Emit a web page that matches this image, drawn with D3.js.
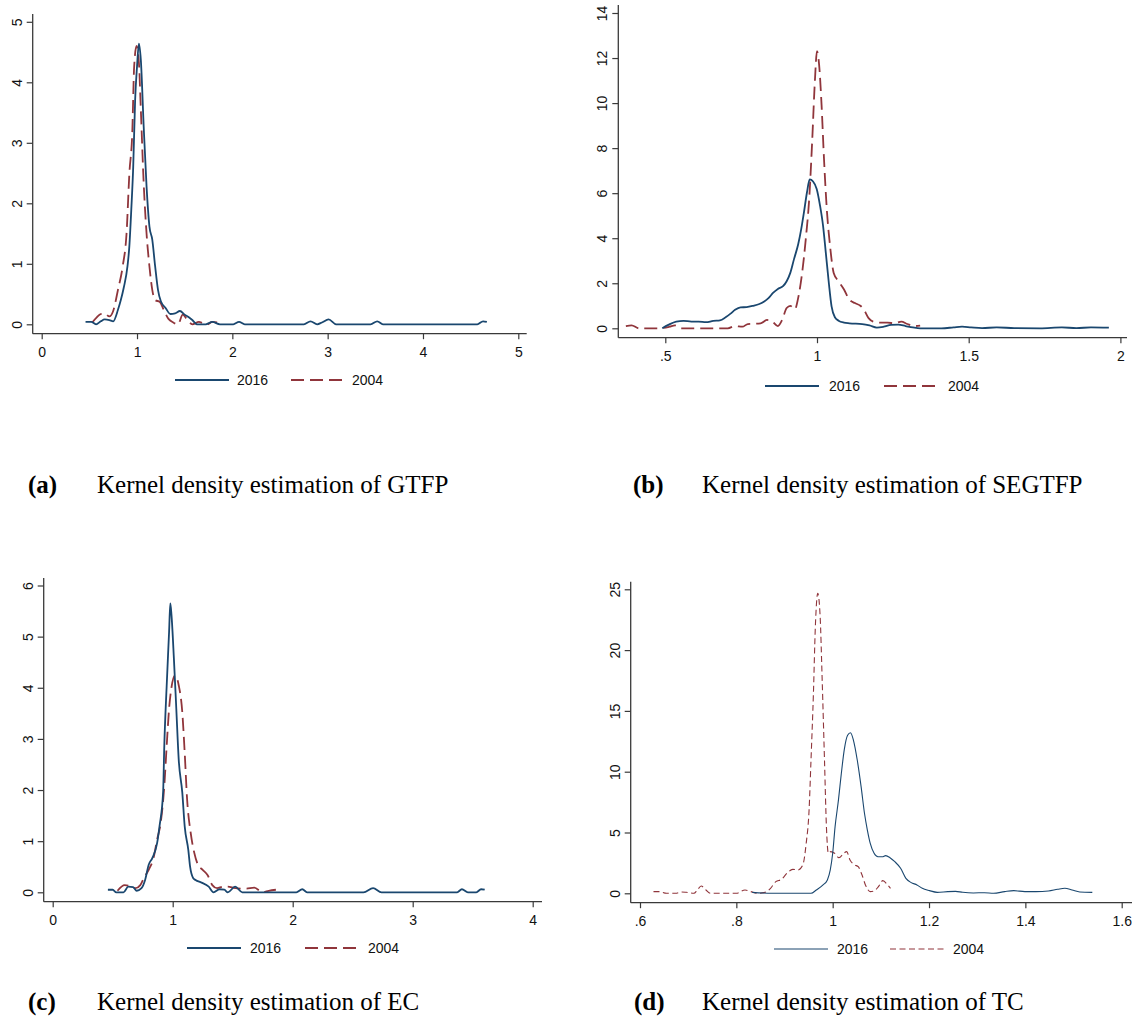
<!DOCTYPE html>
<html><head><meta charset="utf-8">
<script src="https://cdn.jsdelivr.net/npm/d3@7"></script>
<style>
body{margin:0;background:#fff;}
svg{display:block;}
</style></head>
<body>
<svg id="chart" width="1132" height="1017"></svg>
<script>
// ---------------- DATA ----------------
const legendLabels = ["2016", "2004"];

// (a) GTFP
const gtfpXTicks = [0, 1, 2, 3, 4, 5];
const gtfpYTicks = [0, 1, 2, 3, 4, 5];
const gtfp2016 = [[0.46,0.04],[0.52,0.04],[0.57,0.0],[0.62,0.05],[0.66,0.08],[0.71,0.07],[0.75,0.05],[0.80,0.24],[0.83,0.4],[0.86,0.6],[0.90,0.96],[0.92,1.3],[0.94,1.9],[0.96,2.6],[0.98,3.7],[1.0,4.26],[1.02,4.64],[1.04,4.37],[1.07,3.27],[1.10,2.28],[1.13,1.62],[1.16,1.4],[1.19,0.96],[1.22,0.57],[1.25,0.38],[1.30,0.27],[1.35,0.17],[1.40,0.18],[1.45,0.22],[1.50,0.16],[1.54,0.12],[1.58,0.07],[1.63,0.0],[1.72,0.0],[1.79,0.04],[1.87,0.0],[2.01,0.0],[2.07,0.04],[2.13,0.0],[2.75,0.0],[2.82,0.05],[2.89,0.0],[2.94,0.03],[3.01,0.08],[3.09,0.0],[3.45,0.0],[3.52,0.05],[3.58,0.0],[4.57,0.0],[4.63,0.05],[4.67,0.04]];
const gtfp2004 = [[0.53,0.03],[0.58,0.12],[0.62,0.17],[0.66,0.18],[0.71,0.13],[0.75,0.22],[0.80,0.57],[0.85,0.96],[0.89,1.5],[0.92,2.5],[0.95,3.16],[0.97,4.26],[0.995,4.6],[1.02,4.32],[1.04,3.55],[1.07,2.33],[1.10,1.5],[1.13,0.96],[1.16,0.57],[1.19,0.4],[1.24,0.37],[1.28,0.24],[1.33,0.09],[1.38,0.03],[1.43,0.0],[1.48,0.16],[1.52,0.09],[1.58,0.0],[1.65,0.04],[1.69,0.02],[1.74,0.0],[1.79,0.04],[1.84,0.03]];

// (b) SEGTFP
const segXTicks = [0.5, 1, 1.5, 2];
const segYTicks = [0, 2, 4, 6, 8, 10, 12, 14];
const seg2016 = [[0.49,0.0],[0.51,0.15],[0.536,0.3],[0.56,0.33],[0.586,0.3],[0.61,0.3],[0.634,0.27],[0.658,0.33],[0.68,0.35],[0.70,0.5],[0.715,0.65],[0.73,0.82],[0.748,0.93],[0.768,0.94],[0.79,1.0],[0.81,1.08],[0.826,1.19],[0.84,1.34],[0.855,1.57],[0.871,1.75],[0.888,1.87],[0.90,2.09],[0.912,2.46],[0.924,3.06],[0.938,3.73],[0.948,4.4],[0.957,5.15],[0.967,6.04],[0.976,6.61],[0.987,6.52],[0.999,6.19],[1.01,5.45],[1.02,4.55],[1.029,3.36],[1.039,2.01],[1.048,0.97],[1.059,0.49],[1.071,0.34],[1.089,0.25],[1.107,0.22],[1.149,0.19],[1.173,0.13],[1.197,0.03],[1.22,0.07],[1.244,0.15],[1.268,0.16],[1.292,0.1],[1.316,0.04],[1.34,0.0],[1.41,0.0],[1.45,0.04],[1.478,0.07],[1.508,0.04],[1.544,0.01],[1.592,0.04],[1.65,0.01],[1.735,0.0],[1.807,0.04],[1.855,0.01],[1.903,0.04],[1.962,0.03]];
const seg2004 = [[0.37,0.1],[0.389,0.13],[0.413,0.0],[0.478,0.0],[0.514,0.07],[0.532,0.13],[0.55,0.0],[0.706,0.0],[0.73,0.1],[0.754,0.07],[0.772,0.19],[0.814,0.22],[0.835,0.37],[0.85,0.33],[0.871,0.1],[0.885,0.37],[0.90,0.9],[0.912,1.0],[0.927,0.85],[0.939,1.42],[0.951,2.46],[0.963,3.96],[0.975,5.9],[0.984,8.28],[0.993,10.97],[1.0,12.31],[1.007,11.7],[1.015,9.93],[1.023,7.54],[1.033,5.15],[1.043,3.66],[1.055,2.46],[1.071,2.09],[1.089,1.72],[1.107,1.27],[1.125,1.12],[1.143,1.0],[1.155,0.82],[1.17,0.45],[1.185,0.3],[1.209,0.25],[1.233,0.25],[1.256,0.22],[1.278,0.3],[1.298,0.19],[1.322,0.1],[1.34,0.12]];

// (c) EC
const ecXTicks = [0, 1, 2, 3, 4];
const ecYTicks = [0, 1, 2, 3, 4, 5, 6];
const ec2016 = [[0.46,0.05],[0.50,0.05],[0.53,0.0],[0.59,0.0],[0.63,0.11],[0.67,0.1],[0.70,0.03],[0.74,0.08],[0.77,0.24],[0.80,0.54],[0.83,0.67],[0.87,0.96],[0.89,1.29],[0.92,1.95],[0.93,2.87],[0.95,4.05],[0.97,5.1],[0.98,5.65],[0.99,5.42],[1.01,4.57],[1.03,3.59],[1.05,2.6],[1.08,1.95],[1.10,1.29],[1.13,0.83],[1.145,0.5],[1.17,0.28],[1.19,0.24],[1.24,0.19],[1.30,0.11],[1.34,0.0],[1.39,0.06],[1.43,0.05],[1.46,0.0],[1.52,0.11],[1.58,0.0],[2.03,0.0],[2.08,0.06],[2.12,0.0],[2.59,0.0],[2.67,0.08],[2.74,0.0],[3.37,0.0],[3.41,0.06],[3.46,0.0],[3.53,0.0],[3.57,0.06],[3.60,0.05]];
const ec2004 = [[0.54,0.03],[0.60,0.14],[0.65,0.12],[0.69,0.08],[0.73,0.14],[0.76,0.28],[0.80,0.44],[0.84,0.67],[0.87,1.03],[0.90,1.36],[0.93,2.08],[0.95,2.87],[0.97,3.59],[0.99,4.01],[1.02,4.24],[1.05,4.05],[1.08,3.52],[1.10,2.73],[1.12,1.82],[1.15,1.16],[1.18,0.77],[1.21,0.54],[1.25,0.44],[1.29,0.34],[1.33,0.14],[1.37,0.08],[1.42,0.11],[1.46,0.11],[1.52,0.08],[1.61,0.07],[1.68,0.09],[1.75,0.0],[1.80,0.03],[1.86,0.05]];

// (d) TC
const tcXTicks = [0.6, 0.8, 1, 1.2, 1.4, 1.6];
const tcYTicks = [0, 5, 10, 15, 20, 25];
const tc2016 = [[0.833,0.08],[0.875,0.0],[0.955,0.0],[0.966,0.27],[0.98,0.69],[0.989,1.1],[0.995,1.92],[1.0,3.29],[1.005,5.48],[1.012,7.68],[1.018,9.87],[1.024,11.8],[1.031,13.0],[1.037,13.2],[1.043,12.6],[1.051,10.96],[1.059,8.77],[1.066,6.58],[1.072,5.2],[1.078,4.1],[1.086,3.29],[1.094,3.0],[1.103,3.0],[1.11,3.1],[1.119,2.93],[1.129,2.6],[1.141,2.06],[1.152,1.23],[1.163,0.88],[1.175,0.69],[1.186,0.41],[1.201,0.22],[1.217,0.08],[1.239,0.14],[1.255,0.16],[1.27,0.08],[1.292,0.03],[1.315,0.05],[1.334,0.0],[1.357,0.14],[1.376,0.22],[1.399,0.14],[1.422,0.14],[1.448,0.19],[1.467,0.33],[1.482,0.41],[1.497,0.27],[1.513,0.11],[1.539,0.08]];
const tc2004 = [[0.628,0.14],[0.64,0.14],[0.655,0.0],[0.674,0.0],[0.685,0.11],[0.696,0.08],[0.712,0.0],[0.719,0.27],[0.727,0.6],[0.737,0.27],[0.746,0.0],[0.80,0.0],[0.818,0.27],[0.83,0.14],[0.844,0.0],[0.86,0.08],[0.871,0.41],[0.882,0.96],[0.894,1.15],[0.905,1.64],[0.917,1.97],[0.928,1.92],[0.938,2.33],[0.945,4.11],[0.951,6.85],[0.955,10.96],[0.96,16.4],[0.964,21.9],[0.969,24.67],[0.974,22.75],[0.978,17.8],[0.983,10.96],[0.987,5.48],[0.991,3.29],[0.996,3.43],[1.004,3.29],[1.013,2.93],[1.023,3.29],[1.029,3.43],[1.036,2.74],[1.046,2.33],[1.053,2.19],[1.061,1.5],[1.068,0.69],[1.078,0.14],[1.086,0.19],[1.095,0.55],[1.104,1.04],[1.114,0.69],[1.12,0.41]];

const captionTags = ["(a)", "(b)", "(c)", "(d)"];
const captionTexts = ["Kernel density estimation of GTFP", "Kernel density estimation of SEGTFP", "Kernel density estimation of EC", "Kernel density estimation of TC"];

// ---------------- LAYOUT ----------------
const NAVY = "#1a476f", MAROON = "#90353b";
const fmt = v => { let s = String(+v.toFixed(2)); return s.replace(/^0\./, ".").replace(/^-0\./, "-."); };

const panels = [
  { s16: gtfp2016, s04: gtfp2004, xt: gtfpXTicks, yt: gtfpYTicks,
    xd: [0,5], xr: [41.7,518.3], yd: [0,5], yr: [324.3,21.8],
    axL: 32.7, axB: 333.7, axT: 14, axR: 526.7,
    leg: { y: 380, x1: 175, t1: 237, x2: 291, t2: 352 },
    lw: 1.8, dash: "13,6",
    cap: { tx: 28, x: 97, y: 493 } },
  { s16: seg2016, s04: seg2004, xt: segXTicks, yt: segYTicks,
    xd: [0.5,2], xr: [665.3,1120.4], yd: [0,14], yr: [328.3,13.0],
    axL: 618.3, axB: 337.7, axT: 5, axR: 1127,
    leg: { y: 386, x1: 765, t1: 829, x2: 884, t2: 948 },
    lw: 1.8, dash: "13,6",
    cap: { tx: 633, x: 702, y: 493 } },
  { s16: ec2016, s04: ec2004, xt: ecXTicks, yt: ecYTicks,
    xd: [0,4], xr: [52.7,532.7], yd: [0,6], yr: [892.3,585.5],
    axL: 43.7, axB: 901.7, axT: 578, axR: 542,
    leg: { y: 948, x1: 187, t1: 250, x2: 305, t2: 368 },
    lw: 1.8, dash: "13,6",
    cap: { tx: 28, x: 97, y: 1010 } },
  { s16: tc2016, s04: tc2004, xt: tcXTicks, yt: tcYTicks,
    xd: [0.6,1.6], xr: [640,1121.7], yd: [0,25], yr: [893.3,589.3],
    axL: 630.7, axB: 902.7, axT: 581.7, axR: 1132,
    leg: { y: 949, x1: 774, t1: 837, x2: 890, t2: 953 },
    lw: 1.1, dash: "6,3.5",
    cap: { tx: 634, x: 702, y: 1010 } }
];

const svg = d3.select("#chart");
const SANS = "'Liberation Sans', Arial, Helvetica, sans-serif";
const SERIF = "'Liberation Serif', 'Times New Roman', serif";

panels.forEach((p, i) => {
  const g = svg.append("g");
  const x = d3.scaleLinear().domain(p.xd).range(p.xr);
  const y = d3.scaleLinear().domain(p.yd).range(p.yr);

  // axis lines
  g.append("line").attr("x1", p.axL).attr("x2", p.axL).attr("y1", p.axT).attr("y2", p.axB)
    .attr("stroke", "#3a3a3a").attr("stroke-width", 1.3);
  g.append("line").attr("x1", p.axL).attr("x2", p.axR).attr("y1", p.axB).attr("y2", p.axB)
    .attr("stroke", "#3a3a3a").attr("stroke-width", 1.3);

  // x axis ticks
  const xa = g.append("g").attr("transform", `translate(0,${p.axB})`)
    .call(d3.axisBottom(x).tickValues(p.xt).tickFormat(fmt).tickSize(5.5).tickPadding(7.5));
  xa.select(".domain").remove();
  xa.selectAll("line").attr("stroke", "#3a3a3a").attr("stroke-width", 1.2);
  xa.selectAll("text").attr("font-family", SANS).attr("font-size", 14).attr("fill", "#111");

  // y axis ticks with rotated labels
  const ya = g.append("g").attr("transform", `translate(${p.axL},0)`)
    .call(d3.axisLeft(y).tickValues(p.yt).tickFormat(fmt).tickSize(6));
  ya.select(".domain").remove();
  ya.selectAll("line").attr("stroke", "#3a3a3a").attr("stroke-width", 1.2);
  ya.selectAll("text")
    .attr("x", null).attr("dy", null)
    .attr("transform", "translate(-11,0) rotate(-90)")
    .attr("text-anchor", "middle")
    .attr("font-family", SANS).attr("font-size", 14).attr("fill", "#111");

  const line = d3.line().x(d => x(d[0])).y(d => y(d[1])).curve(d3.curveMonotoneX);

  g.append("path").datum(p.s04).attr("d", line)
    .attr("fill", "none").attr("stroke", MAROON).attr("stroke-width", p.lw)
    .attr("stroke-dasharray", p.dash).attr("stroke-linejoin", "round");
  g.append("path").datum(p.s16).attr("d", line)
    .attr("fill", "none").attr("stroke", NAVY).attr("stroke-width", p.lw)
    .attr("stroke-linejoin", "round");

  // legend
  const L = p.leg;
  g.append("line").attr("x1", L.x1).attr("x2", L.x1 + 54).attr("y1", L.y).attr("y2", L.y)
    .attr("stroke", NAVY).attr("stroke-width", p.lw);
  g.append("text").attr("x", L.t1).attr("y", L.y + 5).text(legendLabels[0])
    .attr("font-family", SANS).attr("font-size", 14).attr("fill", "#111");
  g.append("line").attr("x1", L.x2).attr("x2", L.x2 + 54).attr("y1", L.y).attr("y2", L.y)
    .attr("stroke", MAROON).attr("stroke-width", p.lw).attr("stroke-dasharray", p.dash);
  g.append("text").attr("x", L.t2).attr("y", L.y + 5).text(legendLabels[1])
    .attr("font-family", SANS).attr("font-size", 14).attr("fill", "#111");

  // caption
  g.append("text").attr("x", p.cap.tx).attr("y", p.cap.y).text(captionTags[i])
    .attr("font-family", SERIF).attr("font-size", 25).attr("font-weight", "bold").attr("fill", "#000");
  g.append("text").attr("x", p.cap.x).attr("y", p.cap.y).text(captionTexts[i])
    .attr("font-family", SERIF).attr("font-size", 25).attr("fill", "#000");
});
</script>
</body></html>
